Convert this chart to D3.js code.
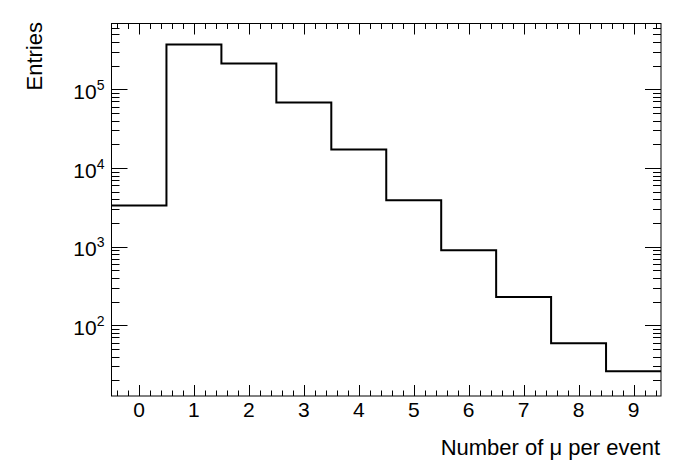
<!DOCTYPE html>
<html>
<head>
<meta charset="utf-8">
<script src="https://cdn.jsdelivr.net/npm/d3@7"></script>
<style>
  body { margin: 0; background: #fff; }
  text { font-family: "Liberation Sans", Arial, Helvetica, sans-serif; fill: #000; }
</style>
</head>
<body>
<svg id="chart" width="696" height="472"></svg>
<script>
// histogram: number of muons per event
const muCount = [0, 1, 2, 3, 4, 5, 6, 7, 8, 9];
const entries = [3330, 370000, 213000, 67600, 17100, 3890, 898, 228, 59, 26];
const xTickValues = [0, 1, 2, 3, 4, 5, 6, 7, 8, 9];
const yDecades = [2, 3, 4, 5];

const width = 696;
const height = 472;
const margin = { top: 23.5, right: 35, bottom: 76, left: 111.5 };

const svg = d3.select("#chart");

const x = d3.scaleLinear()
  .domain([muCount[0] - 0.5, muCount[muCount.length - 1] + 0.5])
  .range([margin.left, width - margin.right]);

const y = d3.scaleLog()
  .domain([12.6, 6.85e5])
  .range([height - margin.bottom, margin.top]);

const x0 = margin.left, x1 = width - margin.right;
const y0 = height - margin.bottom, y1 = margin.top;

// ticks
const ticks = svg.append("g").attr("stroke", "#000").attr("stroke-width", 1);

// x minor ticks every 0.2
const xMinor = d3.range(-4, 95, 2).map(d => d / 10);
xMinor.forEach(v => {
  const major = Math.abs(v - Math.round(v)) < 1e-6;
  const len = major ? 11 : 5.5;
  const px = Math.round(x(v)) + 0.5;
  ticks.append("line").attr("x1", px).attr("x2", px).attr("y1", y0).attr("y2", y0 - len);
  ticks.append("line").attr("x1", px).attr("x2", px).attr("y1", y1).attr("y2", y1 + len);
});

// y ticks on log scale
const [ylo, yhi] = y.domain();
for (let e = 1; e <= 5; e++) {
  for (let m = 1; m <= 9; m++) {
    const v = m * Math.pow(10, e);
    if (v < ylo || v > yhi) continue;
    const len = m === 1 ? 16 : 8;
    const py = Math.round(y(v)) + 0.5;
    ticks.append("line").attr("x1", x0).attr("x2", x0 + len).attr("y1", py).attr("y2", py);
    ticks.append("line").attr("x1", x1).attr("x2", x1 - len).attr("y1", py).attr("y2", py);
  }
}

// x tick labels
svg.append("g").selectAll("text")
  .data(xTickValues)
  .join("text")
  .attr("x", d => x(d))
  .attr("y", y0 + 21)
  .attr("text-anchor", "middle")
  .attr("font-size", "21px")
  .text(d => d);

// y tick labels 10^n
const yl = svg.append("g").selectAll("g")
  .data(yDecades)
  .join("text")
  .attr("x", x0 - 7)
  .attr("y", d => y(Math.pow(10, d)) + 9.7)
  .attr("text-anchor", "end")
  .attr("font-size", "21px");
yl.append("tspan").text("10");
yl.append("tspan")
  .attr("font-size", "14px")
  .attr("dy", -9)
  .text(d => d);

// histogram outline
const pts = muCount.map((c, i) => [c - 0.5, entries[i]]);
pts.push([muCount[muCount.length - 1] + 0.5, entries[entries.length - 1]]);

const line = d3.line()
  .x(d => x(d[0]))
  .y(d => y(d[1]))
  .curve(d3.curveStepAfter);

svg.append("path")
  .datum(pts)
  .attr("fill", "none")
  .attr("stroke", "#000")
  .attr("stroke-width", 2)
  .attr("d", line);

// frame
svg.append("rect")
  .attr("x", x0)
  .attr("y", y1)
  .attr("width", x1 - x0)
  .attr("height", y0 - y1)
  .attr("fill", "none")
  .attr("stroke", "#000")
  .attr("stroke-width", 1);

// axis titles
svg.append("text")
  .attr("x", x1 - 1)
  .attr("y", 455)
  .attr("text-anchor", "end")
  .attr("font-size", "22px")
  .text("Number of \u03bc per event");

svg.append("text")
  .attr("transform", "translate(42,22) rotate(-90)")
  .attr("text-anchor", "end")
  .attr("font-size", "22px")
  .text("Entries");
</script>
</body>
</html>
